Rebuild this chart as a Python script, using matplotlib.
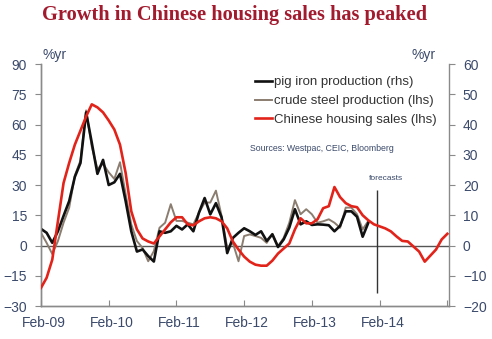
"""Growth in Chinese housing sales vs steel / pig iron output (%yr)."""
import matplotlib
import matplotlib.pyplot as plt
from matplotlib.transforms import ScaledTranslation

matplotlib.use("Agg")

# Monthly series starting Feb-09 (index 0 = Feb-09)
pig_iron_rhs = [
    5.5, 4.2, 0.9, 4.7, 9.8, 14.7, 22.7, 27.3, 44.0, 34.0, 23.7, 28.3,
    20.0, 20.9, 23.7, 14.7, 4.7, -2.0, -1.3, -3.5, -5.3, 4.7, 4.2, 4.7,
    6.5, 5.3, 7.0, 4.7, 10.9, 15.7, 10.3, 14.0, 9.3, -2.5, 2.5, 4.2,
    5.7, 4.7, 3.5, 4.7, 1.5, 3.7, -0.5, 2.0, 5.9, 12.0, 7.0, 8.0,
    6.8, 7.0, 6.9, 6.7, 4.7, 6.5, 11.3, 11.3, 9.5, 2.9, 7.5,
]
crude_steel_lhs = [
    6.3, 1.3, -4.2, 2.2, 11.3, 18.8, 34.7, 42.2, 67.0, 49.0, 38.0, 40.5,
    36.3, 33.0, 41.3, 25.5, 10.5, 2.2, -1.2, -7.8, -2.8, 8.8, 11.3, 20.5,
    12.2, 12.2, 11.3, 10.5, 16.3, 21.3, 21.3, 27.2, 14.7, -1.2, 1.3, -7.8,
    4.7, 5.5, 4.7, 3.8, 1.3, 5.8, -0.3, 3.8, 11.3, 22.5, 15.5, 18.0,
    15.5, 11.3, 12.0, 13.0, 11.3, 8.8, 18.8, 18.8, 15.5, 8.0, 12.2,
]
housing_sales_lhs = [
    -21.0, -16.0, -7.0, 12.0, 31.0, 41.0, 50.0, 57.0, 64.0, 70.0, 68.5, 66.0,
    62.0, 57.5, 50.0, 36.0, 17.0, 8.0, 3.5, 2.0, 1.0, 4.5, 8.0, 11.5,
    14.0, 14.0, 10.5, 10.0, 12.0, 13.5, 14.0, 13.5, 12.0, 8.5, 2.0, -2.0,
    -5.5, -8.0, -9.5, -10.0, -10.0, -7.5, -4.0, -1.5, 1.0, 8.0, 13.5, 11.0,
    11.0, 13.0, 18.5, 19.5, 29.0, 24.0, 21.0, 19.5, 19.0, 15.0, 12.5, 10.5,
    9.5, 8.5, 7.0, 4.5, 2.3, 2.0, -0.5, -3.0, -8.0, -5.0, -2.0, 3.0, 5.8,
]
year_ticks = [0, 12, 24, 36, 48, 60, 72]
year_labels = ["Feb-09", "Feb-10", "Feb-11", "Feb-12", "Feb-13", "Feb-14", ""]
forecast_start = 59.6  # month index where the forecast period begins

_RED = "#e2231a"
_BLACK = "#111111"
_GREY = "#8b7d70"
_TEXT = "#3b4a6b"
_AXIS = "#8a8a8a"
_TITLE = "#a21a2e"

plt.rcParams["font.family"] = ["Liberation Sans", "DejaVu Sans"]

fig = plt.figure(figsize=(4.92, 3.39), dpi=100)
ax1 = fig.add_axes([0.0833, 0.0973, 0.8293, 0.7139])
ax2 = ax1.twinx()

x_pig = list(range(len(pig_iron_rhs)))
x_steel = list(range(len(crude_steel_lhs)))
x_house = list(range(len(housing_sales_lhs)))

ax1.axhline(0, color="#555555", linewidth=1, zorder=1)
ax1.plot(x_steel, crude_steel_lhs, color=_GREY, linewidth=1.4, zorder=2,
         label="crude steel production (lhs)")
ax2.plot(x_pig, pig_iron_rhs, color=_BLACK, linewidth=1.9, zorder=2,
         label="pig iron production (rhs)")
# housing sales is on the lhs scale but drawn above the rhs line
ax2.plot(x_house, housing_sales_lhs, color=_RED, linewidth=1.9, zorder=3,
         transform=ax1.transData, label="Chinese housing sales (lhs)")

ax1.set_xlim(0, 72.3)
ax1.set_ylim(-30, 90)
ax2.set_ylim(-20, 60)
ax1.set_yticks(range(-30, 91, 15))
ax2.set_yticks(range(-20, 61, 10))
ax1.set_xticks(year_ticks)
ax1.set_xticklabels(year_labels)

ax1.vlines(forecast_start, -23.7, 27.5, color="#333333", linewidth=1, zorder=1)
ax1.text(forecast_start + 1.6, 31.5, "forecasts", fontsize=6, color=_TEXT,
         ha="center", va="bottom")

ax1.tick_params(axis="y", direction="out", length=4, colors=_AXIS,
                labelcolor=_TEXT, labelsize=10, pad=6)
ax2.tick_params(axis="y", direction="out", length=4, colors=_AXIS,
                labelcolor=_TEXT, labelsize=10, pad=6)
ax1.tick_params(axis="x", direction="in", length=4, colors=_AXIS,
                labelcolor=_TEXT, labelsize=10, pad=7)
# the original labels sit a few pixels right of their ticks
shift = ScaledTranslation(0.03, 0, fig.dpi_scale_trans)
for lbl in ax1.get_xticklabels():
    lbl.set_transform(lbl.get_transform() + shift)

for ax in (ax1, ax2):
    ax.spines["top"].set_visible(False)
    for spine in ax.spines.values():
        spine.set_color(_AXIS)
        spine.set_linewidth(1)
ax1.spines["right"].set_visible(False)

handles = ax2.get_lines()[:1] + ax1.get_lines()[1:2] + ax2.get_lines()[1:2]
labels = [h.get_label() for h in handles]
ax1.legend(handles, labels, loc="upper left", bbox_to_anchor=(0.525, 0.95),
           frameon=False, fontsize=9.5, handlelength=1.3, handletextpad=0.15,
           labelspacing=0.5, borderpad=0, borderaxespad=0,
           labelcolor="#333333")

fig.text(0.508, 0.563, "Sources: Westpac, CEIC, Bloomberg", fontsize=6.3,
         color=_TEXT, ha="left", va="center")
fig.text(0.110, 0.838, "%yr", fontsize=10, color=_TEXT, ha="center", va="center")
fig.text(0.861, 0.838, "%yr", fontsize=10, color=_TEXT, ha="center", va="center")
fig.text(0.476, 0.955, "Growth in Chinese housing sales has peaked",
         family=["Liberation Serif", "DejaVu Serif"], fontweight="bold",
         fontsize=14.7, color=_TITLE, ha="center", va="center")

fig.savefig("out.png", dpi=100, facecolor="white")
